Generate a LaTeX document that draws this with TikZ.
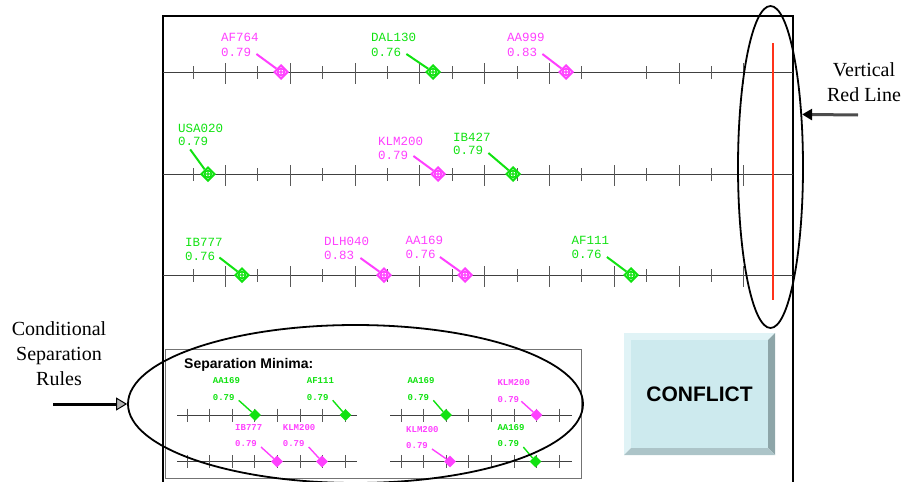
\documentclass[tikz,border=0pt]{standalone}
\usepackage{fontspec}
\usepackage{xcolor}
\usepackage{tikz}
\usetikzlibrary{shapes.geometric,arrows.meta}

\newfontfamily\monofont{Liberation Mono}
\newfontfamily\sansfont{Liberation Sans}
\newfontfamily\seriffont{Liberation Serif}

\definecolor{fmag}{RGB}{255,64,255}
\definecolor{fgreen}{RGB}{17,226,17}
\definecolor{redline}{RGB}{255,51,26}
\definecolor{btnface}{RGB}{205,234,238}
\definecolor{btnlight}{RGB}{224,243,246}
\definecolor{btndark}{RGB}{141,165,168}
\definecolor{btnbottom}{RGB}{172,196,200}

\tikzset{
	track/.style={draw=black!75, line width=0.9pt},
	tickmark/.style={draw=black!65, line width=0.9pt},
	flight/.style={diamond, draw=#1, fill=white, line width=2pt, minimum size=14pt, inner sep=0pt,
		path picture={\draw[#1, line width=1.4pt] (path picture bounding box.center) circle[radius=3.5pt]
			+(-3.8pt,0) -- +(3.8pt,0) +(0,-3.8pt) -- +(0,3.8pt);}},
	callsign/.style={text=#1, font=\fontsize{12.5}{12.5}\selectfont\monofont, anchor=west, inner sep=0pt},
	leader/.style={draw=#1, line width=2pt},
	miniflight/.style={diamond, fill=#1, minimum size=12pt, inner sep=0pt},
	minisign/.style={text=#1, font=\fontsize{9}{9}\selectfont\monofont\bfseries, anchor=west, inner sep=0pt},
	ring/.style={ellipse, draw, line width=1.8pt, inner sep=0pt},
	note/.style={font=\fontsize{20}{25}\selectfont\seriffont, align=center}
}

\begin{document}
\begin{tikzpicture}[x=1pt,y=-1pt]
	\useasboundingbox (0,0) rectangle (906,482);
	
	% Frame of the display
	\draw[line width=1.3pt] (163,482) -- (163,16) -- (793,16) -- (793,482);
	
	% Define the tracks
	\foreach \ty in {72,174,275} \draw[track] (163,\ty) -- (793,\ty);
	\foreach \ty/\skipk in {72/13,174/-1,275/-1}
		\foreach \k in {0,...,17}{
			\ifnum\k=\skipk\else
			\pgfmathsetmacro\tx{193+32.4*\k}
			\ifodd\k \draw[tickmark] (\tx,\ty-9) -- (\tx,\ty+12); \else \draw[tickmark] (\tx,\ty-6) -- (\tx,\ty+7); \fi
			\fi}
	
	% Vertical red line
	\draw[redline, line width=2pt] (773,43) -- (773,300);
	
	% First track
	\node[flight=fmag] (dAF764) at (281,72) {};
	\node[callsign=fmag] (cAF764) at (221,37) {AF764};
	\node[callsign=fmag] (vAF764) at (221,52) {0.79};
	\draw[leader=fmag] (vAF764.east) ++(5,2) -- (dAF764);
	
	\node[flight=fgreen] (dDAL130) at (433,72) {};
	\node[callsign=fgreen] (cDAL130) at (371,37) {DAL130};
	\node[callsign=fgreen] (vDAL130) at (371,52) {0.76};
	\draw[leader=fgreen] (vDAL130.east) ++(5,2) -- (dDAL130);
	
	\node[flight=fmag] (dAA999) at (566,72) {};
	\node[callsign=fmag] (cAA999) at (507,37) {AA999};
	\node[callsign=fmag] (vAA999) at (507,52) {0.83};
	\draw[leader=fmag] (vAA999.east) ++(5,2) -- (dAA999);
	
	% Second track
	\node[flight=fgreen] (dUSA020) at (208,174) {};
	\node[callsign=fgreen] (cUSA020) at (178,128) {USA020};
	\node[callsign=fgreen] (vUSA020) at (178,141) {0.79};
	\draw[leader=fgreen] (vUSA020.south) ++(-3,4) -- (dUSA020);
	
	\node[flight=fmag] (dKLM200) at (438,174) {};
	\node[callsign=fmag] (cKLM200) at (378,141) {KLM200};
	\node[callsign=fmag] (vKLM200) at (378,155) {0.79};
	\draw[leader=fmag] (vKLM200.east) ++(5,1) -- (dKLM200);
	
	\node[flight=fgreen] (dIB427) at (513,174) {};
	\node[callsign=fgreen] (cIB427) at (453,137.5) {IB427};
	\node[callsign=fgreen] (vIB427) at (453,150) {0.79};
	\draw[leader=fgreen] (vIB427.east) ++(5,3) -- (dIB427);
	
	% Third track
	\node[flight=fgreen] (dIB777) at (242,275) {};
	\node[callsign=fgreen] (cIB777) at (185,242) {IB777};
	\node[callsign=fgreen] (vIB777) at (185,256.5) {0.76};
	\draw[leader=fgreen] (vIB777.east) ++(4,1) -- (dIB777);
	
	\node[flight=fmag] (dDLH040) at (384,275) {};
	\node[callsign=fmag] (cDLH040) at (324,241.5) {DLH040};
	\node[callsign=fmag] (vDLH040) at (324,255) {0.83};
	\draw[leader=fmag] (vDLH040.east) ++(6,3) -- (dDLH040);
	
	\node[flight=fmag] (dAA169) at (465,275) {};
	\node[callsign=fmag] (cAA169) at (405.5,240) {AA169};
	\node[callsign=fmag] (vAA169) at (405.5,254) {0.76};
	\draw[leader=fmag] (vAA169.east) ++(4,3) -- (dAA169);
	
	\node[flight=fgreen] (dAF111) at (631,275) {};
	\node[callsign=fgreen] (cAF111) at (571.5,240) {AF111};
	\node[callsign=fgreen] (vAF111) at (571.5,254) {0.76};
	\draw[leader=fgreen] (vAF111.east) ++(5,3) -- (dAF111);
	
	% Separation minima panel
	\draw[black!55, line width=0.8pt] (165,349) rectangle (581,478);
	\node[font=\fontsize{14}{14}\selectfont\sansfont\bfseries, anchor=base west, inner sep=0pt] (sepTitle) at (184,368) {Separation Minima:};
	\foreach \ty in {415,461.5}{
		\draw[track] (177,\ty) -- (357,\ty);
		\draw[track] (390,\ty) -- (572,\ty);
		\foreach \k in {0,...,7}{
			\draw[tickmark] ({187+22.6*\k},\ty-6.5) -- ++(0,13);
			\draw[tickmark] ({401+22.6*\k},\ty-6.5) -- ++(0,13);
		}}
	
	\node[miniflight=fgreen] (mAA169a) at (255,415) {};
	\node[minisign=fgreen] (mcAA169a) at (212.7,380.7) {AA169};
	\node[minisign=fgreen] (mvAA169a) at (212.7,397.3) {0.79};
	\draw[leader=fgreen, line width=1.4pt] (mvAA169a.east) ++(4,3) -- (mAA169a);
	
	\node[miniflight=fgreen] (mAF111) at (345.5,415) {};
	\node[minisign=fgreen] (mcAF111) at (306.7,380.7) {AF111};
	\node[minisign=fgreen] (mvAF111) at (306.7,397.3) {0.79};
	\draw[leader=fgreen, line width=1.4pt] (mvAF111.east) ++(4,3) -- (mAF111);
	
	\node[miniflight=fmag] (mIB777) at (277,461.5) {};
	\node[minisign=fmag] (mcIB777) at (235,427.3) {IB777};
	\node[minisign=fmag] (mvIB777) at (235,444) {0.79};
	\draw[leader=fmag, line width=1.4pt] (mvIB777.east) ++(4,3) -- (mIB777);
	
	\node[miniflight=fmag] (mKLM200a) at (322,461.5) {};
	\node[minisign=fmag] (mcKLM200a) at (282.7,427.3) {KLM200};
	\node[minisign=fmag] (mvKLM200a) at (282.7,444) {0.79};
	\draw[leader=fmag, line width=1.4pt] (mvKLM200a.east) ++(4,3) -- (mKLM200a);
	
	\node[miniflight=fgreen] (mAA169b) at (446,415) {};
	\node[minisign=fgreen] (mcAA169b) at (407.3,380.7) {AA169};
	\node[minisign=fgreen] (mvAA169b) at (407.3,397.3) {0.79};
	\draw[leader=fgreen, line width=1.4pt] (mvAA169b.east) ++(4,3) -- (mAA169b);
	
	\node[miniflight=fmag] (mKLM200b) at (536.5,415) {};
	\node[minisign=fmag] (mcKLM200b) at (497.3,382.3) {KLM200};
	\node[minisign=fmag] (mvKLM200b) at (497.3,399.3) {0.79};
	\draw[leader=fmag, line width=1.4pt] (mvKLM200b.east) ++(2,2) -- (mKLM200b);
	
	\node[miniflight=fmag] (mKLM200c) at (450,461.5) {};
	\node[minisign=fmag] (mcKLM200c) at (406,429.3) {KLM200};
	\node[minisign=fmag] (mvKLM200c) at (406,446) {0.79};
	\draw[leader=fmag, line width=1.4pt] (mvKLM200c.east) ++(4,3) -- (mKLM200c);
	
	\node[miniflight=fgreen] (mAA169c) at (535.5,461.5) {};
	\node[minisign=fgreen] (mcAA169c) at (497.3,427.3) {AA169};
	\node[minisign=fgreen] (mvAA169c) at (497.3,444) {0.79};
	\draw[leader=fgreen, line width=1.4pt] (mvAA169c.east) ++(4,3) -- (mAA169c);
	
	% Conflict button
	\fill[btnlight] (624,333) -- (775,333) -- (768,340) -- (631,340) -- (631,448) -- (624,455) -- cycle;
	\fill[btndark] (775,333) -- (775,455) -- (768,448) -- (768,340) -- cycle;
	\fill[btnbottom] (624,455) -- (775,455) -- (768,448) -- (631,448) -- cycle;
	\node[fill=btnface, minimum width=137pt, minimum height=108pt, inner sep=0pt,
		font=\fontsize{21}{21}\selectfont\sansfont\bfseries] (conflict) at (699.5,394) {CONFLICT};
	
	% Rings and call-outs
	\node[ring, minimum width=455pt, minimum height=158pt] (ringL) at (355.5,404) {};
	\node[ring, minimum width=65pt, minimum height=322pt] (ringR) at (770.5,167) {};
	
	\node[note] (lblCSR) at (59,354) {Conditional\\Separation\\Rules};
	\coordinate (csrTail) at (53,404);
	\draw[line width=3pt, -{Triangle[length=11pt, width=13pt, fill=black!30, line width=1pt]}] (csrTail) -- (ringL.west);
	
	\node[note] (lblVRL) at (864,82) {Vertical\\Red Line};
	\coordinate (vrlTail) at (858,115);
	\draw[black!70, line width=3pt, -{Triangle[length=10pt, width=11pt, color=black]}] (vrlTail) -- (ringR.59);
	
\end{tikzpicture}
\end{document}
